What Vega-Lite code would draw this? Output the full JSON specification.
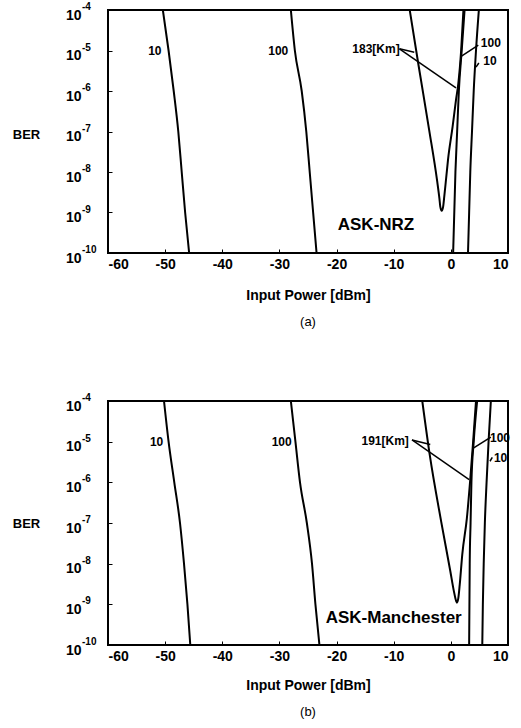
{
  "$schema": "https://vega.github.io/schema/vega-lite/v6.json",
  "background": "white",
  "padding": {"left": 11, "top": 1, "right": 5, "bottom": 5},
  "spacing": 62,
  "config": {
    "view": {"stroke": "black", "strokeWidth": 2},
    "font": "Liberation Sans",
    "axis": {"grid": false, "domain": false, "labelFont": "Liberation Sans", "labelFontWeight": "bold", "labelFontSize": 14, "labelColor": "black", "titleFont": "Liberation Sans", "titleFontWeight": "bold", "titleFontSize": 14, "titleColor": "black", "tickColor": "black", "tickSize": -4, "tickWidth": 1},
    "title": {"font": "Liberation Sans", "fontSize": 13, "fontWeight": "normal", "color": "black", "orient": "bottom", "offset": 14}
  },
  "datasets": {
    "exps": [
      {"y": 1e-4, "e": "-4"},
      {"y": 1e-5, "e": "-5"},
      {"y": 1e-6, "e": "-6"},
      {"y": 1e-7, "e": "-7"},
      {"y": 1e-8, "e": "-8"},
      {"y": 1e-9, "e": "-9"},
      {"y": 1e-10, "e": "-10"}
    ],
    "curvesA": [
      {"s": "10", "i": 0, "x": -50.4, "y": 1e-4},
      {"s": "10", "i": 1, "x": -49.4, "y": 1e-5},
      {"s": "10", "i": 2, "x": -48.5, "y": 1e-6},
      {"s": "10", "i": 3, "x": -47.7, "y": 1e-7},
      {"s": "10", "i": 4, "x": -47.1, "y": 1e-8},
      {"s": "10", "i": 5, "x": -46.5, "y": 1e-9},
      {"s": "10", "i": 6, "x": -45.8, "y": 1e-10},
      {"s": "100", "i": 0, "x": -28.0, "y": 1e-4},
      {"s": "100", "i": 1, "x": -27.3, "y": 1e-5},
      {"s": "100", "i": 2, "x": -26.1, "y": 1e-6},
      {"s": "100", "i": 3, "x": -25.3, "y": 1e-7},
      {"s": "100", "i": 4, "x": -24.7, "y": 1e-8},
      {"s": "100", "i": 5, "x": -24.1, "y": 1e-9},
      {"s": "100", "i": 6, "x": -23.5, "y": 1e-10},
      {"s": "183", "i": 0, "x": -7.2, "y": 1e-4},
      {"s": "183", "i": 1, "x": -5.7, "y": 4.7e-6},
      {"s": "183", "i": 2, "x": -3.8, "y": 1.1e-7},
      {"s": "183", "i": 3, "x": -2.4, "y": 6e-9},
      {"s": "183", "i": 4, "x": -2.0, "y": 2.2e-9},
      {"s": "183", "i": 5, "x": -1.85, "y": 1.4e-9},
      {"s": "183", "i": 6, "x": -1.6, "y": 1.1e-9},
      {"s": "183", "i": 7, "x": -1.35, "y": 1.4e-9},
      {"s": "183", "i": 8, "x": -1.15, "y": 2.5e-9},
      {"s": "183", "i": 9, "x": -0.9, "y": 5.5e-9},
      {"s": "183", "i": 10, "x": -0.5, "y": 2e-8},
      {"s": "183", "i": 11, "x": 0.3, "y": 1.3e-7},
      {"s": "183", "i": 12, "x": 0.9, "y": 6e-7},
      {"s": "183", "i": 13, "x": 1.3, "y": 1.5e-6},
      {"s": "183", "i": 14, "x": 1.8, "y": 1e-5},
      {"s": "183", "i": 15, "x": 2.2, "y": 1e-4},
      {"s": "100r", "i": 0, "x": 0.4, "y": 1e-10},
      {"s": "100r", "i": 1, "x": 0.8, "y": 1e-8},
      {"s": "100r", "i": 2, "x": 1.1, "y": 1e-7},
      {"s": "100r", "i": 3, "x": 1.4, "y": 1e-6},
      {"s": "100r", "i": 4, "x": 1.9, "y": 1e-5},
      {"s": "100r", "i": 5, "x": 2.4, "y": 1e-4},
      {"s": "10r", "i": 0, "x": 3.0, "y": 1e-10},
      {"s": "10r", "i": 1, "x": 3.2, "y": 1e-9},
      {"s": "10r", "i": 2, "x": 3.4, "y": 1e-8},
      {"s": "10r", "i": 3, "x": 3.7, "y": 1e-7},
      {"s": "10r", "i": 4, "x": 4.0, "y": 1e-6},
      {"s": "10r", "i": 5, "x": 4.4, "y": 1e-5},
      {"s": "10r", "i": 6, "x": 4.9, "y": 1e-4}
    ],
    "curvesB": [
      {"s": "10", "i": 0, "x": -50.2, "y": 1e-4},
      {"s": "10", "i": 1, "x": -49.4, "y": 1e-5},
      {"s": "10", "i": 2, "x": -48.4, "y": 1e-6},
      {"s": "10", "i": 3, "x": -47.4, "y": 1e-7},
      {"s": "10", "i": 4, "x": -46.7, "y": 1e-8},
      {"s": "10", "i": 5, "x": -46.1, "y": 1e-9},
      {"s": "10", "i": 6, "x": -45.6, "y": 1e-10},
      {"s": "100", "i": 0, "x": -28.0, "y": 1e-4},
      {"s": "100", "i": 1, "x": -27.2, "y": 1e-5},
      {"s": "100", "i": 2, "x": -26.4, "y": 1e-6},
      {"s": "100", "i": 3, "x": -25.2, "y": 1e-7},
      {"s": "100", "i": 4, "x": -24.3, "y": 1e-8},
      {"s": "100", "i": 5, "x": -23.7, "y": 1e-9},
      {"s": "100", "i": 6, "x": -23.0, "y": 1e-10},
      {"s": "191", "i": 0, "x": -5.0, "y": 1e-4},
      {"s": "191", "i": 1, "x": -3.7, "y": 4.8e-6},
      {"s": "191", "i": 2, "x": -1.7, "y": 1.1e-7},
      {"s": "191", "i": 3, "x": -0.1, "y": 6.6e-9},
      {"s": "191", "i": 4, "x": 0.5, "y": 2.2e-9},
      {"s": "191", "i": 5, "x": 0.8, "y": 1.4e-9},
      {"s": "191", "i": 6, "x": 1.05, "y": 1.1e-9},
      {"s": "191", "i": 7, "x": 1.3, "y": 1.4e-9},
      {"s": "191", "i": 8, "x": 1.55, "y": 3e-9},
      {"s": "191", "i": 9, "x": 2.0, "y": 1.7e-8},
      {"s": "191", "i": 10, "x": 2.8, "y": 1.3e-7},
      {"s": "191", "i": 11, "x": 3.4, "y": 1.2e-6},
      {"s": "191", "i": 12, "x": 3.9, "y": 1e-5},
      {"s": "191", "i": 13, "x": 4.4, "y": 1e-4},
      {"s": "100r", "i": 0, "x": 3.2, "y": 1e-10},
      {"s": "100r", "i": 1, "x": 3.3, "y": 1e-8},
      {"s": "100r", "i": 2, "x": 3.45, "y": 1e-7},
      {"s": "100r", "i": 3, "x": 3.6, "y": 1e-6},
      {"s": "100r", "i": 4, "x": 4.0, "y": 1e-5},
      {"s": "100r", "i": 5, "x": 4.6, "y": 1e-4},
      {"s": "10r", "i": 0, "x": 5.5, "y": 1e-10},
      {"s": "10r", "i": 1, "x": 5.6, "y": 1e-9},
      {"s": "10r", "i": 2, "x": 5.75, "y": 1e-8},
      {"s": "10r", "i": 3, "x": 5.95, "y": 1e-7},
      {"s": "10r", "i": 4, "x": 6.25, "y": 1e-6},
      {"s": "10r", "i": 5, "x": 6.6, "y": 1e-5},
      {"s": "10r", "i": 6, "x": 7.0, "y": 1e-4}
    ],
    "labelsA": [
      {"x": -51.8, "y": 1e-5, "t": "10"},
      {"x": -30.2, "y": 1e-5, "t": "100"},
      {"x": -13.1, "y": 1.1e-5, "t": "183[Km]"},
      {"x": 7.0, "y": 1.5e-5, "t": "100"},
      {"x": 6.85, "y": 5.4e-6, "t": "10"}
    ],
    "labelsB": [
      {"x": -51.5, "y": 1e-5, "t": "10"},
      {"x": -29.6, "y": 1e-5, "t": "100"},
      {"x": -11.5, "y": 1.05e-5, "t": "191[Km]"},
      {"x": 8.6, "y": 1.2e-5, "t": "100"},
      {"x": 8.7, "y": 4e-6, "t": "10"}
    ],
    "leadersA": [
      {"x": -9.0, "y": 1.1e-5, "x2": -6.4, "y2": 9e-6},
      {"x": -9.0, "y": 1.1e-5, "x2": 0.9, "y2": 1.2e-6},
      {"x": 4.8, "y": 1.35e-5, "x2": 1.8, "y2": 7.2e-6},
      {"x": 4.9, "y": 4.9e-6, "x2": 4.4, "y2": 3.9e-6}
    ],
    "leadersB": [
      {"x": -6.8, "y": 1.1e-5, "x2": -3.6, "y2": 8.5e-6},
      {"x": -6.8, "y": 1.1e-5, "x2": 3.2, "y2": 1.17e-6},
      {"x": 7.0, "y": 1.3e-5, "x2": 4.0, "y2": 7e-6},
      {"x": 7.25, "y": 4.1e-6, "x2": 6.85, "y2": 3.3e-6}
    ],
    "modA": [{"x": -13.1, "y": 4.8e-10, "t": "ASK-NRZ"}],
    "modB": [{"x": -10.0, "y": 4.5e-10, "t": "ASK-Manchester"}]
  },
  "vconcat": [
    {
      "width": 400,
      "height": 243,
      "title": {"text": "(a)"},
      "layer": [
        {
          "data": {"name": "curvesA"},
          "mark": {"type": "line", "color": "black", "strokeWidth": 2, "clip": true, "interpolate": "monotone"},
          "encoding": {
            "x": {"field": "x", "type": "quantitative", "scale": {"domain": [-60, 10], "nice": false, "zero": false},
                  "axis": {"values": [-60, -50, -40, -30, -20, -10, 0, 10], "labelExpr": "'' + datum.value", "title": "Input Power  [dBm]", "labelPadding": 8, "titlePadding": 17}},
            "y": {"field": "y", "type": "quantitative", "scale": {"type": "log", "domain": [1e-10, 1e-4], "nice": false},
                  "axis": {"values": [1e-4, 1e-5, 1e-6, 1e-7, 1e-8, 1e-9, 1e-10], "labelPadding": 31, "labelOffset": 5,
                           "labelExpr": "'10'",
                           "title": "BER", "titleAngle": 0, "titleX": -82, "titleY": 124, "titleAlign": "center", "titleBaseline": "middle", "titleFontSize": 13}},
            "detail": {"field": "s"},
            "order": {"field": "i", "type": "quantitative"}
          }
        },
        {
          "data": {"name": "exps"},
          "mark": {"type": "text", "font": "Liberation Sans", "fontWeight": "bold", "fontSize": 10, "align": "left", "baseline": "middle", "dx": -26, "dy": -3, "color": "black", "clip": false},
          "encoding": {
            "x": {"datum": -60, "type": "quantitative"},
            "y": {"field": "y", "type": "quantitative"},
            "text": {"field": "e"}
          }
        },
        {
          "data": {"name": "leadersA"},
          "mark": {"type": "rule", "color": "black", "strokeWidth": 1.5},
          "encoding": {
            "x": {"field": "x", "type": "quantitative"},
            "y": {"field": "y", "type": "quantitative"},
            "x2": {"field": "x2"},
            "y2": {"field": "y2"}
          }
        },
        {
          "data": {"name": "labelsA"},
          "mark": {"type": "text", "font": "Liberation Sans", "fontWeight": "bold", "fontSize": 12, "align": "center", "baseline": "middle", "color": "black"},
          "encoding": {
            "x": {"field": "x", "type": "quantitative"},
            "y": {"field": "y", "type": "quantitative"},
            "text": {"field": "t"}
          }
        },
        {
          "data": {"name": "modA"},
          "mark": {"type": "text", "font": "Liberation Sans", "fontWeight": "bold", "fontSize": 17, "align": "center", "baseline": "middle", "color": "black"},
          "encoding": {
            "x": {"field": "x", "type": "quantitative"},
            "y": {"field": "y", "type": "quantitative"},
            "text": {"field": "t"}
          }
        }
      ]
    },
    {
      "width": 400,
      "height": 244,
      "title": {"text": "(b)"},
      "layer": [
        {
          "data": {"name": "curvesB"},
          "mark": {"type": "line", "color": "black", "strokeWidth": 2, "clip": true, "interpolate": "monotone"},
          "encoding": {
            "x": {"field": "x", "type": "quantitative", "scale": {"domain": [-60, 10], "nice": false, "zero": false},
                  "axis": {"values": [-60, -50, -40, -30, -20, -10, 0, 10], "labelExpr": "'' + datum.value", "title": "Input Power  [dBm]", "labelPadding": 8, "titlePadding": 15}},
            "y": {"field": "y", "type": "quantitative", "scale": {"type": "log", "domain": [1e-10, 1e-4], "nice": false},
                  "axis": {"values": [1e-4, 1e-5, 1e-6, 1e-7, 1e-8, 1e-9, 1e-10], "labelPadding": 31, "labelOffset": 5,
                           "labelExpr": "'10'",
                           "title": "BER", "titleAngle": 0, "titleX": -82, "titleY": 122, "titleAlign": "center", "titleBaseline": "middle", "titleFontSize": 13}},
            "detail": {"field": "s"},
            "order": {"field": "i", "type": "quantitative"}
          }
        },
        {
          "data": {"name": "exps"},
          "mark": {"type": "text", "font": "Liberation Sans", "fontWeight": "bold", "fontSize": 10, "align": "left", "baseline": "middle", "dx": -26, "dy": -3, "color": "black", "clip": false},
          "encoding": {
            "x": {"datum": -60, "type": "quantitative"},
            "y": {"field": "y", "type": "quantitative"},
            "text": {"field": "e"}
          }
        },
        {
          "data": {"name": "leadersB"},
          "mark": {"type": "rule", "color": "black", "strokeWidth": 1.5},
          "encoding": {
            "x": {"field": "x", "type": "quantitative"},
            "y": {"field": "y", "type": "quantitative"},
            "x2": {"field": "x2"},
            "y2": {"field": "y2"}
          }
        },
        {
          "data": {"name": "labelsB"},
          "mark": {"type": "text", "font": "Liberation Sans", "fontWeight": "bold", "fontSize": 12, "align": "center", "baseline": "middle", "color": "black"},
          "encoding": {
            "x": {"field": "x", "type": "quantitative"},
            "y": {"field": "y", "type": "quantitative"},
            "text": {"field": "t"}
          }
        },
        {
          "data": {"name": "modB"},
          "mark": {"type": "text", "font": "Liberation Sans", "fontWeight": "bold", "fontSize": 17, "align": "center", "baseline": "middle", "color": "black"},
          "encoding": {
            "x": {"field": "x", "type": "quantitative"},
            "y": {"field": "y", "type": "quantitative"},
            "text": {"field": "t"}
          }
        }
      ]
    }
  ]
}
